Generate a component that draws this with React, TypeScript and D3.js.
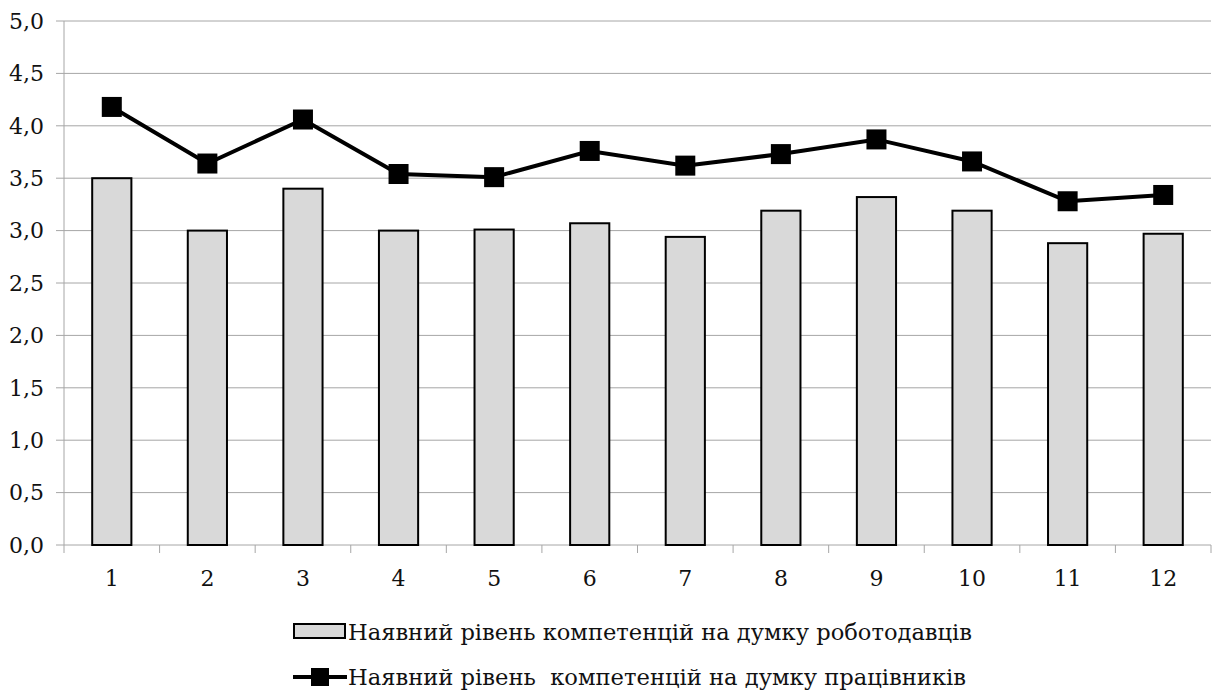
import React from "react";
import * as d3 from "d3";

const categories = ["1", "2", "3", "4", "5", "6", "7", "8", "9", "10", "11", "12"];
const employerValues = [3.5, 3.0, 3.4, 3.0, 3.01, 3.07, 2.94, 3.19, 3.32, 3.19, 2.88, 2.97];
const employeeValues = [4.18, 3.64, 4.06, 3.54, 3.51, 3.76, 3.62, 3.73, 3.87, 3.66, 3.28, 3.34];
const yTicks = [0, 0.5, 1, 1.5, 2, 2.5, 3, 3.5, 4, 4.5, 5];
const legendLabels = [
  "Наявний рівень компетенцій на думку роботодавців",
  "Наявний рівень  компетенцій на думку працівників",
];

const W = 1212;
const H = 691;
const left = 64;
const right = 1211;
const top = 21;
const bottom = 545;
const font = "'DejaVu Serif', 'Liberation Serif', serif";

export default function App() {
  const x = d3.scaleBand<string>().domain(categories).range([left, right]).paddingInner(0).paddingOuter(0);
  const y = d3.scaleLinear().domain([0, 5]).range([bottom, top]);
  const bw = x.bandwidth() * 0.41;
  const cx = (c: string) => (x(c) as number) + x.bandwidth() / 2;
  const line = d3
    .line<number>()
    .x((_, i) => cx(categories[i]))
    .y((d) => y(d));
  const fmt = (v: number) => v.toFixed(1).replace(".", ",");
  const boundaries = categories.map((c) => x(c) as number).concat([right]);
  const ts = { fontFamily: font };

  return (
    <svg width={W} height={H} style={{ position: "absolute", left: 0, top: 0, background: "#fff", fontFamily: font }}>
      {yTicks.map((t) => (
        <g key={t}>
          {t > 0 && <line x1={left} x2={right} y1={y(t)} y2={y(t)} stroke="#a6a6a6" strokeWidth={1} />}
          <line x1={left - 8} x2={left} y1={y(t)} y2={y(t)} stroke="#a6a6a6" strokeWidth={1} />
          <text x={left - 20} y={y(t)} dy="0.35em" textAnchor="end" style={ts} fontSize={22} fill="#111">
            {fmt(t)}
          </text>
        </g>
      ))}
      <line x1={left} x2={left} y1={top} y2={bottom} stroke="#a6a6a6" strokeWidth={1} />
      <line x1={left} x2={right} y1={bottom} y2={bottom} stroke="#a6a6a6" strokeWidth={1} />
      {boundaries.map((b, i) => (
        <line key={i} x1={b} x2={b} y1={bottom} y2={bottom + 8} stroke="#a6a6a6" strokeWidth={1} />
      ))}
      {categories.map((c) => (
        <text key={c} x={cx(c)} y={bottom + 41} textAnchor="middle" style={ts} fontSize={22} fill="#111">
          {c}
        </text>
      ))}
      {categories.map((c, i) => (
        <rect
          key={c}
          x={cx(c) - bw / 2}
          y={y(employerValues[i])}
          width={bw}
          height={bottom - y(employerValues[i])}
          fill="#d9d9d9"
          stroke="#000"
          strokeWidth={2}
        />
      ))}
      <path d={line(employeeValues) || ""} fill="none" stroke="#000" strokeWidth={4} />
      {employeeValues.map((v, i) => (
        <rect key={i} x={cx(categories[i]) - 10} y={y(v) - 10} width={20} height={20} fill="#000" />
      ))}
      <g>
        <rect x={294} y={624} width={51} height={14} fill="#d9d9d9" stroke="#000" strokeWidth={2} />
        <text x={348} y={632} dy="0.35em" style={ts} fontSize={22} fill="#111" textLength={624} lengthAdjust="spacingAndGlyphs">
          {legendLabels[0]}
        </text>
        <line x1={293} x2={347} y1={677} y2={677} stroke="#000" strokeWidth={4} />
        <rect x={311} y={668} width={18} height={18} fill="#000" />
        <text x={348} y={677} dy="0.35em" style={{ ...ts, whiteSpace: "pre" }} fontSize={22} fill="#111" textLength={618} lengthAdjust="spacingAndGlyphs">
          {legendLabels[1]}
        </text>
      </g>
    </svg>
  );
}
